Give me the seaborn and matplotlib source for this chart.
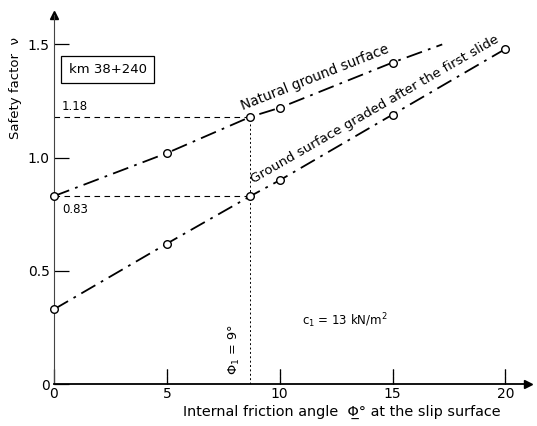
import numpy as np
import pandas as pd
import matplotlib
matplotlib.use("Agg")
import matplotlib.pyplot as plt
import seaborn as sns

# ---- data ----
phi_points = [0, 5, 8.7, 10, 15]
natural_points = [0.83, 1.02, 1.18, 1.22, 1.42]
natural_line_end_x = 17.2
natural_line_end_y = 1.50

phi_graded = [0, 5, 8.7, 10, 15, 20]
graded_points = [0.33, 0.62, 0.83, 0.90, 1.19, 1.48]

phi1 = 8.7
nu_natural_phi1 = 1.18
nu_graded_phi1 = 0.83

x_ticks = [0, 5, 10, 15, 20]
x_ticklabels = ["0", "5", "10", "15", "20"]
y_ticks = [0, 0.5, 1.0, 1.5]
y_ticklabels = ["0", "0.5", "1.0", "1.5"]

sns.set_theme(style="ticks")
plt.rcParams['font.family'] = ['DejaVu Sans']
plt.rcParams['text.color'] = 'black'
plt.rcParams['xtick.color'] = 'black'
plt.rcParams['ytick.color'] = 'black'
plt.rcParams['xtick.labelcolor'] = 'black'
plt.rcParams['ytick.labelcolor'] = 'black'
plt.rcParams['xtick.direction'] = 'in'
plt.rcParams['ytick.direction'] = 'in'

fig = plt.figure(figsize=(5.37, 4.26), dpi=100)
ax = fig.add_axes([54/537, 1-384/426, (528-54)/537, (384-15)/426])
ax.set_xlim(0, 21)
ax.set_ylim(0, 1.63)

dash_dot = (9, 3.5, 1.5, 3.5)

nat_df = pd.DataFrame({"phi": phi_points + [natural_line_end_x],
                       "nu": natural_points + [natural_line_end_y]})
gr_df = pd.DataFrame({"phi": phi_graded, "nu": graded_points})

sns.lineplot(data=nat_df, x="phi", y="nu", ax=ax, color="black", lw=1.3,
             dashes=False, estimator=None, sort=False)
sns.lineplot(data=gr_df, x="phi", y="nu", ax=ax, color="black", lw=1.3,
             dashes=False, estimator=None, sort=False)
for ln in ax.lines:
    ln.set_dashes(dash_dot)

sns.scatterplot(x=phi_points, y=natural_points, ax=ax, s=30, marker="o",
                facecolor="white", edgecolor="black", linewidth=1.0, zorder=5,
                clip_on=False)
sns.scatterplot(x=phi_graded, y=graded_points, ax=ax, s=30, marker="o",
                facecolor="white", edgecolor="black", linewidth=1.0, zorder=5,
                clip_on=False)

# reference lines
ax.plot([0, phi1], [nu_natural_phi1]*2, color="black", lw=0.8, ls=(0, (5, 4)), zorder=2)
ax.plot([0, phi1], [nu_graded_phi1]*2, color="black", lw=0.8, ls=(0, (5, 4)), zorder=2)
ax.plot([phi1, phi1], [0, nu_natural_phi1], color="black", lw=0.7, ls=(0, (2, 2.5)), zorder=2)

# axes styling
sns.despine(ax=ax)
ax.spines['left'].set_color('#444444')
ax.spines['left'].set_linewidth(0.8)
ax.spines['left'].set_linestyle((0, (3, 1)))
ax.spines['bottom'].set_color('black')
ax.spines['bottom'].set_linewidth(1.3)
ax.set_xticks(x_ticks)
ax.set_xticklabels(x_ticklabels)
ax.set_yticks(y_ticks)
ax.set_yticklabels(y_ticklabels)
ax.tick_params(axis='both', which='major', direction='in', length=11, width=0.9,
               color='black', labelcolor='black', labelsize=10,
               bottom=True, left=True)
ax.tick_params(axis='x', pad=2)
ax.tick_params(axis='y', pad=3)
ax.set_xlabel("")
ax.set_ylabel("")
# make the inward x tick marks clearly visible (thin, like the reference)
ax.vlines(x_ticks[1:], 0, 15/369, transform=ax.get_xaxis_transform(),
          color="black", lw=0.8, ls=(0, (3, 1)), clip_on=False)

# axis arrows
ax.plot(1, 0, marker=">", color="black", ms=6, transform=ax.get_yaxis_transform(), clip_on=False)
ax.plot(0, 1, marker="^", color="black", ms=6, transform=ax.get_xaxis_transform(), clip_on=False)

# labels
fig.text(16/537, 1-88/426, "Safety factor  ν", rotation=90, ha="center", va="center",
         fontsize=9.5, color="black")
fig.text(342/537, 1-412/426, "Internal friction angle  Φ̲° at the slip surface",
         ha="center", va="center", fontsize=10.4, color="black")

ax.text(0.65, 1.39, "km 38+240", fontsize=9.5, ha="left", va="center", color="black",
        bbox=dict(boxstyle="square,pad=0.55", fc="white", ec="black", lw=0.9))
ax.text(0.35, 1.195, "1.18", fontsize=8.5, ha="left", va="bottom", color="black")
ax.text(0.35, 0.80, "0.83", fontsize=8.5, ha="left", va="top", color="black")
ax.text(phi1 - 0.35, 0.04, "$\\Phi_1$ = 9°", rotation=90, fontsize=9.3, ha="right",
        va="bottom", color="black")
ax.text(11.0, 0.28, "c$_1$ = 13 kN/m$^2$", fontsize=8.5, ha="left", va="center", color="black")

# rotated line labels
fig.canvas.draw()
def screen_angle(x0, y0, x1, y1):
    p0 = ax.transData.transform((x0, y0))
    p1 = ax.transData.transform((x1, y1))
    return np.degrees(np.arctan2(p1[1]-p0[1], p1[0]-p0[0]))

a_nat = screen_angle(phi_points[0], natural_points[0], phi_points[-1], natural_points[-1])
a_gr = screen_angle(phi_graded[0], graded_points[0], phi_graded[-1], graded_points[-1])
ax.text(8.4, 1.195, "Natural ground surface", rotation=a_nat, rotation_mode="anchor",
        ha="left", va="bottom", fontsize=9.8, color="black")
ax.text(8.9, 0.875, "Ground surface graded after the first slide", rotation=a_gr,
        rotation_mode="anchor", ha="left", va="bottom", fontsize=9.6, color="black")

fig.savefig("out.png", dpi=100)
